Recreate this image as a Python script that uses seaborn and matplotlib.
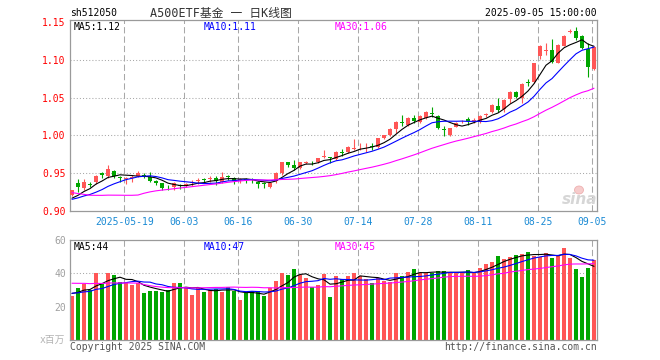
import numpy as np
import pandas as pd
import matplotlib
matplotlib.use("Agg")
import matplotlib.pyplot as plt
from matplotlib.patches import Ellipse
import seaborn as sns

sns.set_style("white")
MONO = ["DejaVu Sans Mono", "Noto Sans CJK SC"]
plt.rcParams["font.family"] = MONO

# ---------------- data ----------------
dates = pd.bdate_range("2025-05-06", "2025-09-05").drop(pd.Timestamp("2025-06-02"))

open_ = [0.921, 0.937, 0.9297, 0.9355, 0.9377, 0.9504, 0.946, 0.9526, 0.9445, 0.9425,
         0.944, 0.9464, 0.948, 0.945, 0.9394, 0.9363, 0.932, 0.931, 0.934, 0.933,
         0.9365, 0.9393, 0.941, 0.9425, 0.9438, 0.9385, 0.9455, 0.943, 0.9403, 0.941,
         0.941, 0.9385, 0.9357, 0.9318, 0.9398, 0.9496, 0.9642, 0.9606, 0.9562, 0.9637,
         0.9645, 0.965, 0.9712, 0.970, 0.9682, 0.9775, 0.9782, 0.9822, 0.984, 0.984,
         0.9853, 0.9849, 0.996, 1.0004, 1.0079, 1.0175, 1.0136, 1.0233, 1.0172, 1.0225,
         1.0288, 1.0256, 1.0075, 1.0004, 1.0114, 1.0185, 1.022, 1.019, 1.018, 1.027,
         1.0305, 1.039, 1.0345, 1.048, 1.0574, 1.049, 1.070, 1.071, 1.1051, 1.1125,
         1.1131, 1.0962, 1.1188, 1.1375, 1.1383, 1.1317, 1.114, 1.0879]
high = [0.928, 0.9416, 0.9416, 0.9385, 0.947, 0.9517, 0.9606, 0.954, 0.946, 0.9445,
        0.9475, 0.9526, 0.9505, 0.9517, 0.941, 0.937, 0.934, 0.938, 0.9355, 0.937,
        0.9407, 0.9438, 0.9438, 0.946, 0.946, 0.9517, 0.9473, 0.9451, 0.943, 0.9438,
        0.9438, 0.9394, 0.9377, 0.9377, 0.9517, 0.965, 0.965, 0.9672, 0.965, 0.9659,
        0.9663, 0.9703, 0.9805, 0.9716, 0.979, 0.9814, 0.9858, 0.995, 0.9894, 0.990,
        0.9894, 0.9967, 1.001, 1.0092, 1.0189, 1.0269, 1.0247, 1.0269, 1.0269, 1.0322,
        1.0379, 1.0269, 1.0123, 1.0101, 1.0172, 1.0207, 1.0238, 1.023, 1.027, 1.030,
        1.0415, 1.049, 1.048, 1.059, 1.059, 1.0697, 1.0742, 1.0965, 1.1195, 1.1228,
        1.1273, 1.1205, 1.1325, 1.1405, 1.144, 1.1325, 1.122, 1.118]
low = [0.919, 0.9252, 0.9274, 0.931, 0.936, 0.943, 0.943, 0.943, 0.9385, 0.935,
       0.9385, 0.945, 0.943, 0.9385, 0.9335, 0.928, 0.928, 0.928, 0.9285, 0.931,
       0.9328, 0.9354, 0.937, 0.9385, 0.934, 0.9363, 0.9407, 0.9354, 0.9372, 0.937,
       0.9363, 0.9297, 0.9305, 0.9297, 0.9363, 0.9473, 0.9583, 0.954, 0.9549, 0.9619,
       0.9606, 0.9637, 0.9695, 0.9637, 0.967, 0.9725, 0.9769, 0.9805, 0.9805, 0.9778,
       0.9805, 0.9827, 0.9945, 0.999, 1.0034, 1.0127, 1.0123, 1.0159, 1.0159, 1.0212,
       1.0239, 1.0079, 0.999, 0.9995, 1.011, 1.0159, 1.0136, 1.016, 1.017, 1.0245,
       1.0295, 1.0313, 1.031, 1.0432, 1.049, 1.0424, 1.0654, 1.069, 1.1008, 1.1065,
       1.0955, 1.0955, 1.118, 1.1352, 1.1263, 1.114, 1.0769, 1.087]
close = [0.927, 0.931, 0.9385, 0.934, 0.946, 0.9473, 0.9549, 0.9464, 0.9435, 0.9435,
         0.945, 0.9504, 0.946, 0.9398, 0.9363, 0.9297, 0.931, 0.9371, 0.933, 0.9354,
         0.937, 0.940, 0.9405, 0.943, 0.9394, 0.9451, 0.945, 0.9398, 0.9407, 0.9405,
         0.9403, 0.935, 0.935, 0.9363, 0.9504, 0.9642, 0.9606, 0.9562, 0.9642, 0.9642,
         0.964, 0.9695, 0.9716, 0.9695, 0.9782, 0.9769, 0.9849, 0.983, 0.9849, 0.985,
         0.9849, 0.996, 1.0004, 1.0079, 1.018, 1.017, 1.0233, 1.0189, 1.0256, 1.0313,
         1.0283, 1.0093, 1.007, 1.0093, 1.0167, 1.019, 1.019, 1.0205, 1.0256, 1.0278,
         1.0402, 1.034, 1.0475, 1.0574, 1.0512, 1.0685, 1.0693, 1.0958, 1.1184, 1.1131,
         1.0976, 1.1197, 1.1317, 1.1385, 1.1286, 1.1153, 1.0909, 1.1175]
volume = [26.6, 31.4, 33.6, 30, 40.4, 33.6, 40.4, 39.2, 34.8, 34,
          33, 34, 28.4, 29.4, 29.4, 29, 30, 34, 34, 31.4,
          27, 31.2, 29, 30, 30.6, 29, 31.6, 29.4, 24.2, 28,
          29.4, 29.4, 26.4, 31, 35.4, 40.4, 39.2, 42.6, 39, 37.4,
          31.6, 33, 39.6, 26, 38.6, 36.4, 38.6, 40.2, 38.6, 36.6,
          34.4, 37.4, 35.6, 35, 40.2, 38.6, 40.8, 42.6, 40, 40,
          40, 41.6, 41.6, 40, 40, 40, 42.2, 40, 43.4, 45.8,
          46.8, 50.6, 48.8, 50, 51.2, 51.8, 53, 50.4, 50, 52.2,
          49.4, 50.6, 55.4, 49, 42.8, 38, 43.2, 48]
# sessions before the window, estimated so the moving averages start where the picture shows
prior_close = [0.972, 0.970, 0.968, 0.950, 0.948, 0.946, 0.948, 0.945, 0.947, 0.945, 0.940,
               0.875, 0.885, 0.895, 0.900, 0.905, 0.908, 0.906, 0.908, 0.910,
               0.912, 0.913, 0.914, 0.916, 0.913, 0.912, 0.913, 0.915, 0.916]
prior_vol = [33, 34, 35, 36, 35, 34, 35, 36, 34, 35, 34,
             55, 50, 45, 40, 38, 36, 34, 32, 30,
             29, 28, 27, 28, 29, 28, 27, 28, 30]

tick_dates = ["2025-05-19", "2025-06-03", "2025-06-16", "2025-06-30", "2025-07-14",
              "2025-07-28", "2025-08-11", "2025-08-25", "2025-09-05"]
tick_labels = ["2025-05-19", "06-03", "06-16", "06-30", "07-14", "07-28", "08-11", "08-25", "09-05"]
price_ticks = [0.90, 0.95, 1.00, 1.05, 1.10, 1.15]
vol_ticks = [20, 40, 60]
price_ma_text = ["MA5:1.12", "MA10:1.11", "MA30:1.06"]
vol_ma_text = ["MA5:44", "MA10:47", "MA30:45"]

# ---------------- derived ----------------
n = len(close)
x = np.arange(n)
O = np.array(open_); C = np.array(close); H = np.array(high); L = np.array(low)
V = np.array(volume)
up = C >= O
RED, GREEN = "#ff5656", "#00a600"
cols = np.where(up, RED, GREEN)

def ma(prior, vals, w):
    s = pd.Series(list(prior) + list(vals))
    return s.rolling(w, min_periods=1).mean().iloc[len(prior):].values

ma_colors = ["black", "#0000ff", "#ff00ff"]
windows = [5, 10, 30]

W, Hh = 660, 360
fig = plt.figure(figsize=(6.6, 3.6), dpi=100)
ax = fig.add_axes([70 / W, 1 - 210.7 / Hh, 527 / W, 190.7 / Hh])
axv = fig.add_axes([70 / W, 1 - 340 / Hh, 527 / W, 100 / Hh])

tick_pos = [dates.get_loc(pd.Timestamp(d)) - 0.3 for d in tick_dates]
GRID = "#a8a8a8"

# price pane
for yv in price_ticks[1:-1]:
    ax.axhline(yv, color=GRID, lw=0.75, ls=(0, (1, 2)), zorder=0)
for p in tick_pos:
    ax.axvline(p, color=GRID, lw=0.75, ls=(0, (6, 3)), zorder=0)
    axv.axvline(p, color=GRID, lw=0.75, ls=(0, (6, 3)), zorder=0)

ax.vlines(x, L, H, colors=cols, lw=0.8, zorder=2)
body = np.maximum(np.abs(C - O), 0.0011)
ax.bar(x, body, bottom=np.minimum(O, C), width=0.8, color=cols, linewidth=0, zorder=3)

for w, c in zip(windows, ma_colors):
    sns.lineplot(x=x, y=ma(prior_close, close, w), color=c, lw=0.8, ax=ax, zorder=4,
                 sort=False, estimator=None)

ax.set_xlim(-0.333, 87.5)
ax.set_ylim(0.90, 1.153)
ax.set_yticks(price_ticks)
ax.set_yticklabels([f"{t:.2f}" for t in price_ticks])
ax.set_xticks(tick_pos)
ax.set_xticklabels(tick_labels)
ax.tick_params(axis="y", length=0, pad=3, labelsize=7, labelcolor="#ff0000")
ax.tick_params(axis="x", length=0, pad=4.5, labelsize=7, labelcolor="#1a8ad4")
ax.set_xlabel(""); ax.set_ylabel("")

# volume pane
axv.axhline(40, color=GRID, lw=0.75, ls=(0, (1, 2)), zorder=0)
kind = np.where(up, "up", "down")
sns.barplot(x=x, y=V, hue=kind, palette={"up": RED, "down": GREEN}, dodge=False,
            width=0.83, saturation=1, linewidth=0, legend=False, ax=axv, zorder=2)
for w, c in zip(windows, ma_colors):
    sns.lineplot(x=x, y=ma(prior_vol, volume, w), color=c, lw=0.8, ax=axv, zorder=4,
                 sort=False, estimator=None)
axv.set_xlim(-0.333, 87.5)
axv.set_ylim(0, 60)
axv.set_yticks(vol_ticks)
axv.set_yticklabels([str(t) for t in vol_ticks])
axv.set_xticks([])
axv.tick_params(axis="y", length=0, pad=3, labelsize=7, labelcolor="#a0a0a0")
axv.set_xlabel(""); axv.set_ylabel("")

for a in (ax, axv):
    for s in a.spines.values():
        s.set_color("#9a9a9a")
        s.set_linewidth(0.9)
        s.set_visible(True)

def ftext(px, py, s, **kw):
    fig.text(px / W, 1 - py / Hh, s, **kw)

ftext(70, 13, "sh512050", ha="left", va="center", size=7, color="black")
ftext(150.5, 13, "A500ETF基金 一 日K线图", ha="left", va="center", size=8.5, color="#333333")
ftext(597, 13, "2025-09-05 15:00:00", ha="right", va="center", size=7, color="black")

for px, s, c in zip([74, 204, 335], price_ma_text, ma_colors):
    ftext(px, 26.7, s, ha="left", va="center", size=7, color=c)
for px, s, c in zip([74, 204, 335], vol_ma_text, ma_colors):
    ftext(px, 246.5, s, ha="left", va="center", size=7, color=c)

ftext(65, 340, "x百万", ha="right", va="center", size=7, color="#b4b4b4")
ftext(70, 346.5, "Copyright 2025 SINA.COM", ha="left", va="center", size=7, color="#555555")
ftext(597, 346.5, "http://finance.sina.com.cn", ha="right", va="center", size=7, color="#555555")

# sina watermark
fig.add_artist(Ellipse((579 / W, 1 - 190 / Hh), 9 / W, 8 / Hh, transform=fig.transFigure,
                       facecolor="#f6cccc", edgecolor="#eeb0b0", lw=0.6, zorder=1))
ftext(597, 200, "sina", ha="right", va="center", size=11, color="#d6d6d6",
      family="DejaVu Sans", weight="bold", style="italic")

fig.savefig("out.png", dpi=100)
